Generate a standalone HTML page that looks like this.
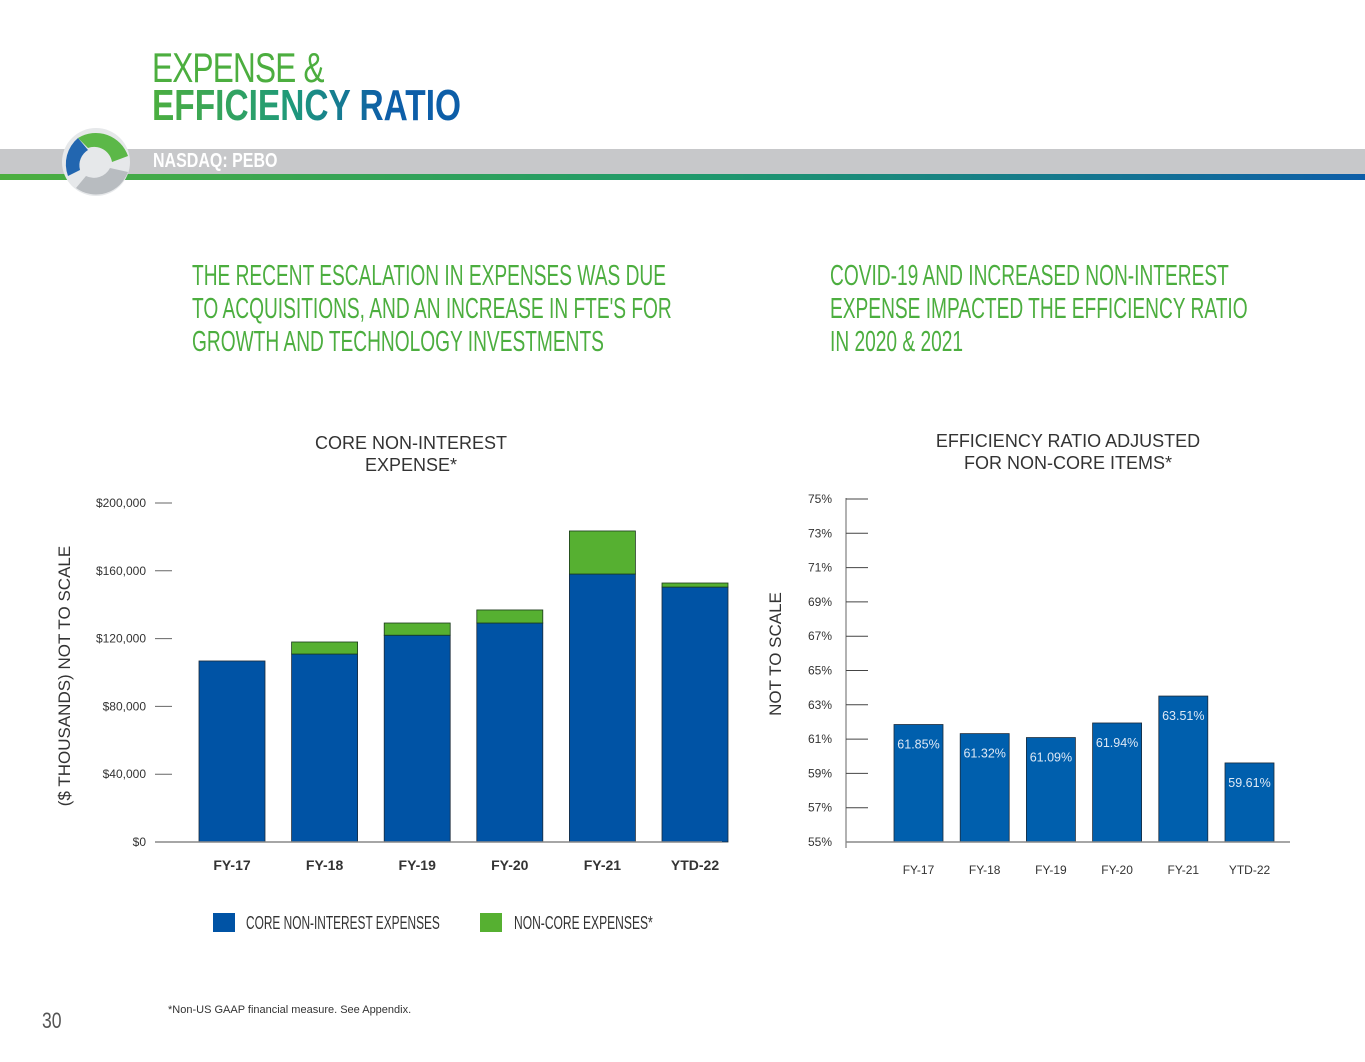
<!DOCTYPE html>
<html><head><meta charset="utf-8"><style>
body{margin:0;width:1365px;height:1062px;background:#fff;position:relative;overflow:hidden;font-family:"Liberation Sans",sans-serif}
.a{position:absolute;white-space:nowrap}
.cond{font-family:"Liberation Sans Narrow","Liberation Sans",sans-serif}
</style></head><body>
<div class="a" style="left:152px;top:46px;font-size:42px;color:#4cae3f;transform:scaleX(0.75);transform-origin:left;letter-spacing:-1px;line-height:44px">EXPENSE &amp;</div>
<div class="a" style="left:152px;top:84px;font-size:44px;font-weight:bold;transform:scaleX(0.76);transform-origin:left;line-height:44px;background:linear-gradient(90deg,#4cae3f,#1f9a7a 45%,#0d5ea8 75%);-webkit-background-clip:text;color:transparent">EFFICIENCY RATIO</div>
<div class="a" style="left:0;top:149px;width:1365px;height:25px;background:#c7c8ca"></div>
<div class="a" style="left:0;top:174px;width:1365px;height:6px;background:linear-gradient(90deg,#4cae3f,#1f9a6a 50%,#0d5ea8)"></div>
<div class="a" style="left:153px;top:150px;font-size:20px;font-weight:bold;color:#fff;transform:scaleX(0.8);transform-origin:left">NASDAQ: PEBO</div>
<svg class="a" style="left:58px;top:126px" width="76" height="72"><circle cx="38" cy="36" r="34" fill="#e6e8ea"/><path d="M20 12 A34 34 0 0 1 70 30 L54 36 A18 18 0 0 0 30 22Z" fill="#5cb848"/><path d="M10 50 A34 34 0 0 1 20 12 L30 24 A18 18 0 0 0 22 44Z" fill="#2266b0"/><path d="M18 62 A34 34 0 0 0 70 46 L52 42 A18 18 0 0 1 28 50Z" fill="#b8bcc0"/></svg>
<div class="a cond" style="left:192px;top:260px;font-size:29px;line-height:33px;color:#4cae3f;transform:scaleX(0.66);transform-origin:left">THE RECENT ESCALATION IN EXPENSES WAS DUE<br>TO ACQUISITIONS, AND AN INCREASE IN FTE'S FOR<br>GROWTH AND TECHNOLOGY INVESTMENTS</div>
<div class="a cond" style="left:830px;top:260px;font-size:29px;line-height:33px;color:#4cae3f;transform:scaleX(0.66);transform-origin:left">COVID-19 AND INCREASED NON-INTEREST<br>EXPENSE IMPACTED THE EFFICIENCY RATIO<br>IN 2020 &amp; 2021</div>
<svg class="a" style="left:0;top:0" width="1365" height="1062" id="charts"></svg>
<div class="a" style="left:213px;top:913px;width:22px;height:19px;background:#0053a5"></div>
<div class="a cond" style="left:246px;top:913px;font-size:18px;color:#333;transform:scaleX(0.66);transform-origin:left">CORE NON-INTEREST EXPENSES</div>
<div class="a" style="left:480px;top:913px;width:22px;height:19px;background:#56b031"></div>
<div class="a cond" style="left:514px;top:913px;font-size:18px;color:#333;transform:scaleX(0.67);transform-origin:left">NON-CORE EXPENSES*</div>
<div class="a" style="left:168px;top:1004px;font-size:11px;color:#333">*Non-US GAAP financial measure. See Appendix.</div>
<div class="a" style="left:42px;top:1008px;font-size:22px;color:#555;transform:scaleX(0.8);transform-origin:left">30</div>
<script>
const cats=["FY-17","FY-18","FY-19","FY-20","FY-21","YTD-22"];
const coreVals=[106800,110900,122000,129200,158100,150400];
const nonCoreVals=[0,7100,7200,7700,25400,2400];
const leftTicks=[0,40000,80000,120000,160000,200000];
const leftTickLabels=["$0","$40,000","$80,000","$120,000","$160,000","$200,000"];
const effVals=[61.85,61.32,61.09,61.94,63.51,59.61];
const effLabels=["61.85%","61.32%","61.09%","61.94%","63.51%","59.61%"];
const rightTicks=[55,57,59,61,63,65,67,69,71,73,75];
const svg=document.getElementById('charts');const NS='http://www.w3.org/2000/svg';
function mk(t,a,txt){const e=document.createElementNS(NS,t);for(const k in a)e.setAttribute(k,a[k]);if(txt!==undefined)e.textContent=txt;svg.appendChild(e);return e;}
// left chart
const ly=v=>842-v/200000*339;const lx=i=>199+i*92.6;
let e=mk('text',{x:411,y:449,'text-anchor':'middle','font-size':18,fill:'#333'},'CORE NON-INTEREST');
e=mk('text',{x:411,y:471,'text-anchor':'middle','font-size':18,fill:'#333'},'EXPENSE*');
e=mk('text',{x:0,y:0,'text-anchor':'middle','font-size':17,fill:'#333',transform:'translate(70,676) rotate(-90)'},'($ THOUSANDS)  NOT TO SCALE');
leftTicks.forEach((t,i)=>{e=mk('line',{x1:155,x2:172,y1:ly(t),y2:ly(t),stroke:'#666','stroke-width':1});
e=mk('text',{x:146,y:ly(t)+4,'text-anchor':'end','font-size':12,fill:'#333'},leftTickLabels[i]);});
cats.forEach((c,i)=>{e=mk('rect',{x:lx(i),y:ly(coreVals[i]),width:66,height:842-ly(coreVals[i]),fill:'#0053a5',stroke:'#1a2a3a','stroke-width':0.8});
if(nonCoreVals[i]>0){const t=coreVals[i]+nonCoreVals[i];e=mk('rect',{x:lx(i),y:ly(t),width:66,height:ly(coreVals[i])-ly(t),fill:'#56b031',stroke:'#1a3a1a','stroke-width':0.8});}
e=mk('text',{x:lx(i)+33,y:870,'text-anchor':'middle','font-size':14,'font-weight':'bold',fill:'#333'},c);});
e=mk('line',{x1:155,x2:722,y1:842,y2:842,stroke:'#888','stroke-width':1.5});
// right chart
const ry=v=>842-(v-55)/20*343;const rx=i=>894+i*66.2;
e=mk('text',{x:1068,y:447,'text-anchor':'middle','font-size':18,fill:'#333'},'EFFICIENCY RATIO ADJUSTED');
e=mk('text',{x:1068,y:469,'text-anchor':'middle','font-size':18,fill:'#333'},'FOR NON-CORE ITEMS*');
e=mk('text',{x:0,y:0,'text-anchor':'middle','font-size':17,fill:'#333',transform:'translate(781,654) rotate(-90)'},'NOT TO SCALE');
e=mk('line',{x1:846,x2:846,y1:498,y2:848,stroke:'#666','stroke-width':1});
rightTicks.forEach(t=>{if(t>55){e=mk('line',{x1:846,x2:868,y1:ry(t),y2:ry(t),stroke:'#444','stroke-width':1});}
e=mk('text',{x:832,y:ry(t)+4,'text-anchor':'end','font-size':12,fill:'#333'},t+'%');});
cats.forEach((c,i)=>{e=mk('rect',{x:rx(i),y:ry(effVals[i]),width:49,height:842-ry(effVals[i]),fill:'#005fad',stroke:'#1a2a3a','stroke-width':0.8});
e=mk('text',{x:rx(i)+24.5,y:ry(effVals[i])+24,'text-anchor':'middle','font-size':12.5,fill:'#dde8f5'},effLabels[i]);
e=mk('text',{x:rx(i)+24.5,y:874,'text-anchor':'middle','font-size':12,fill:'#333'},c);});
e=mk('line',{x1:846,x2:1290,y1:842,y2:842,stroke:'#888','stroke-width':1.5});
</script>
</body></html>
